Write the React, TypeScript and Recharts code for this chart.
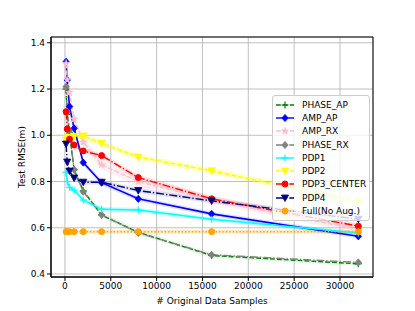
import React from "react";
import {
  ComposedChart,
  Line,
  Area,
  XAxis,
  YAxis,
  CartesianGrid,
  Legend,
  ReferenceArea
} from "recharts";

// x: number of original samples (doubling)
const samples = [125, 250, 500, 1000, 2000, 4000, 8000, 16000, 32000];

const phaseAP = [1.2, 1.09, 1.01, 0.85, 0.76, 0.655, 0.58, 0.48, 0.444];
const ampAP = [1.318, 1.239, 1.124, 1.03, 0.882, 0.795, 0.725, 0.66, 0.563];
const ampRX = [1.31, 1.24, 1.185, 1.07, 0.97, 0.872, 0.8, 0.72, 0.592];
const phaseRX = [1.21, 1.1, 1.02, 0.852, 0.756, 0.656, 0.578, 0.483, 0.45];
const pdp1 = [0.84, 0.8, 0.775, 0.762, 0.72, 0.68, 0.677, 0.637, 0.577];
const pdp2 = [0.978, 0.987, 0.99, 0.995, 0.997, 0.965, 0.906, 0.846, 0.713];
const pdp3 = [1.102, 1.027, 0.983, 0.958, 0.932, 0.912, 0.817, 0.725, 0.607];
const pdp4 = [0.962, 0.884, 0.845, 0.815, 0.797, 0.797, 0.761, 0.716, 0.637];
const fullNoAug = [0.583, 0.583, 0.583, 0.583, 0.583, 0.583, 0.583, 0.583, 0.583];

// half-width of the shaded spread around each curve
const phaseAPSpread = [0.02, 0.015, 0.015, 0.012, 0.012, 0.012, 0.01, 0.01, 0.008];
const ampAPSpread = [0.06, 0.03, 0.02, 0.015, 0.012, 0.012, 0.01, 0.01, 0.01];
const ampRXSpread = [0.04, 0.03, 0.025, 0.022, 0.02, 0.02, 0.02, 0.016, 0.015];
const pdp1Spread = [0.012, 0.01, 0.01, 0.01, 0.01, 0.01, 0.01, 0.008, 0.008];
const pdp2Spread = [0.012, 0.012, 0.012, 0.012, 0.012, 0.012, 0.012, 0.012, 0.012];
const pdp3Spread = [0.012, 0.01, 0.01, 0.01, 0.01, 0.01, 0.012, 0.012, 0.012];
const pdp4Spread = [0.01, 0.01, 0.01, 0.01, 0.01, 0.01, 0.01, 0.01, 0.01];
const fullSpread = [0.008, 0.008, 0.008, 0.008, 0.008, 0.008, 0.008, 0.008, 0.008];

const xTicks = [0, 5000, 10000, 15000, 20000, 25000, 30000];
const yTicks = [0.4, 0.6, 0.8, 1.0, 1.2, 1.4];

const X_DOMAIN: [number, number] = [-1520, 33600];
const Y_DOMAIN: [number, number] = [0.387, 1.425];

const FONT = "'DejaVu Sans', sans-serif";

type Shape = "plus" | "diamond" | "star" | "circle" | "tri";

interface Series {
  key: string;
  name: string;
  color: string;
  dash?: string;
  shape: Shape;
  width?: number;
  band?: string;
}

const DASHED = "4.8 2.1";
const DASHDOT = "8 2 1.3 2";
const DOTTED = "1.3 2.1";

const series: Series[] = [
  { key: "phaseAP", name: "PHASE_AP", color: "green", dash: DASHED, shape: "plus", band: "#9be09b" },
  { key: "ampAP", name: "AMP_AP", color: "blue", shape: "diamond", width: 1.6, band: "#8c8cff" },
  { key: "ampRX", name: "AMP_RX", color: "pink", dash: DASHED, shape: "star", band: "pink" },
  { key: "phaseRX", name: "PHASE_RX", color: "gray", dash: DASHDOT, shape: "diamond" },
  { key: "pdp1", name: "PDP1", color: "cyan", shape: "plus", band: "cyan" },
  { key: "pdp2", name: "PDP2", color: "yellow", dash: DASHED, shape: "tri", band: "yellow" },
  { key: "pdp3", name: "PDP3_CENTER", color: "red", dash: DASHDOT, shape: "circle", band: "#ff8080" },
  { key: "pdp4", name: "PDP4", color: "navy", dash: DASHDOT, shape: "tri", band: "#8080c0" },
  { key: "full", name: "Full(No Aug.)", color: "orange", dash: DOTTED, shape: "circle", band: "orange" }
];

const band = (v: number[], s: number[], i: number) => [v[i] - s[i], v[i] + s[i]];

const data = samples.map((n, i) => ({
  n,
  phaseAP: phaseAP[i],
  ampAP: ampAP[i],
  ampRX: ampRX[i],
  phaseRX: phaseRX[i],
  pdp1: pdp1[i],
  pdp2: pdp2[i],
  pdp3: pdp3[i],
  pdp4: pdp4[i],
  full: fullNoAug[i],
  phaseAPBand: band(phaseAP, phaseAPSpread, i),
  ampAPBand: band(ampAP, ampAPSpread, i),
  ampRXBand: band(ampRX, ampRXSpread, i),
  pdp1Band: band(pdp1, pdp1Spread, i),
  pdp2Band: band(pdp2, pdp2Spread, i),
  pdp3Band: band(pdp3, pdp3Spread, i),
  pdp4Band: band(pdp4, pdp4Spread, i),
  fullBand: band(fullNoAug, fullSpread, i)
}));

function Marker({ cx, cy, shape, color }: { cx: number; cy: number; shape: Shape; color: string }) {
  if (cx == null || cy == null) return null;
  switch (shape) {
    case "circle":
      return <circle cx={cx} cy={cy} r={3} fill={color} stroke={color} />;
    case "diamond":
      return (
        <polygon
          points={`${cx},${cy - 3.6} ${cx + 3.2},${cy} ${cx},${cy + 3.6} ${cx - 3.2},${cy}`}
          fill={color}
          stroke={color}
          strokeWidth={0.8}
        />
      );
    case "tri":
      return (
        <polygon
          points={`${cx - 3.6},${cy - 3} ${cx + 3.6},${cy - 3} ${cx},${cy + 3.6}`}
          fill={color}
          stroke={color}
          strokeWidth={0.8}
        />
      );
    case "plus":
      return (
        <g stroke={color} strokeWidth={1.2}>
          <line x1={cx - 3.5} y1={cy} x2={cx + 3.5} y2={cy} />
          <line x1={cx} y1={cy - 3.5} x2={cx} y2={cy + 3.5} />
        </g>
      );
    case "star": {
      const pts: string[] = [];
      for (let k = 0; k < 10; k++) {
        const r = k % 2 === 0 ? 4 : 1.7;
        const a = -Math.PI / 2 + (k * Math.PI) / 5;
        pts.push(`${cx + r * Math.cos(a)},${cy + r * Math.sin(a)}`);
      }
      return <polygon points={pts.join(" ")} fill={color} stroke={color} strokeWidth={0.5} />;
    }
  }
  return null;
}

// matplotlib-like legend box
const renderLegend = () => (
  <div
    style={{
      width: 96,
      padding: "2px 0",
      background: "rgba(255,255,255,0.8)",
      border: "1px solid #cccccc",
      borderRadius: 3,
      fontFamily: FONT,
      fontSize: 9,
      color: "#000"
    }}
  >
    {series.map(s => (
      <div key={s.key} style={{ height: 13.3, display: "flex", alignItems: "center" }}>
        <svg width={28} height={12} style={{ flex: "none" }}>
          <line x1={3} y1={6} x2={21} y2={6} stroke={s.color} strokeWidth={1.4} strokeDasharray={s.dash} />
          <Marker cx={12} cy={6} shape={s.shape} color={s.color} />
        </svg>
        <span style={{ marginLeft: 1, whiteSpace: "nowrap" }}>{s.name}</span>
      </div>
    ))}
  </div>
);

export default function App() {
  return (
    <div style={{ width: 415, height: 311, background: "#fff", position: "relative" }}>
      <style>{"body{margin:0}"}</style>
      <ComposedChart width={415} height={311} data={data} margin={{ top: 37, right: 42, left: 0, bottom: 0 }}>
        <CartesianGrid stroke="#b0b0b0" strokeWidth={0.8} />
        <XAxis
          type="number"
          dataKey="n"
          domain={X_DOMAIN}
          ticks={xTicks}
          allowDataOverflow
          height={34}
          tickSize={4}
          tickMargin={2}
          stroke="#000"
          tick={{ fill: "#000", fontSize: 9, fontFamily: FONT }}
          label={{
            value: "# Original Data Samples",
            position: "insideBottom",
            offset: 7,
            fill: "#000",
            fontSize: 9,
            fontFamily: FONT
          }}
        />
        <YAxis
          type="number"
          domain={Y_DOMAIN}
          ticks={yTicks}
          allowDataOverflow
          width={51}
          tickSize={4}
          tickMargin={2}
          stroke="#000"
          tickFormatter={(v: number) => v.toFixed(1)}
          tick={{ fill: "#000", fontSize: 9, fontFamily: FONT }}
          label={{
            content: () => (
              <text
                x={22}
                y={157}
                transform="rotate(-90 22 157)"
                textAnchor="middle"
                dominantBaseline="central"
                fill="#000"
                fontSize={9}
                fontFamily={FONT}
              >
                Test RMSE(m)
              </text>
            )
          }}
        />
        <ReferenceArea
          x1={X_DOMAIN[0]}
          x2={X_DOMAIN[1]}
          y1={Y_DOMAIN[0]}
          y2={Y_DOMAIN[1]}
          fill="none"
          stroke="#000"
          strokeWidth={1}
          ifOverflow="visible"
        />
        {series
          .filter(s => s.band)
          .map(s => (
            <Area
              key={`${s.key}-band`}
              type="linear"
              dataKey={`${s.key}Band`}
              fill={s.band}
              fillOpacity={0.25}
              stroke="none"
              legendType="none"
              dot={false}
              activeDot={false}
              isAnimationActive={false}
            />
          ))}
        {series.map(s => (
          <Line
            key={s.key}
            type="linear"
            dataKey={s.key}
            name={s.name}
            stroke={s.color}
            strokeWidth={s.width ?? 1.4}
            strokeDasharray={s.dash}
            dot={(p: any) => <Marker key={`${s.key}-${p.index}`} cx={p.cx} cy={p.cy} shape={s.shape} color={s.color} />}
            activeDot={false}
            isAnimationActive={false}
          />
        ))}
        <Legend
          layout="vertical"
          align="center"
          verticalAlign="middle"
          content={renderLegend}
          wrapperStyle={{ left: 272, top: 95, width: 98, height: 124 }}
        />
      </ComposedChart>
    </div>
  );
}
